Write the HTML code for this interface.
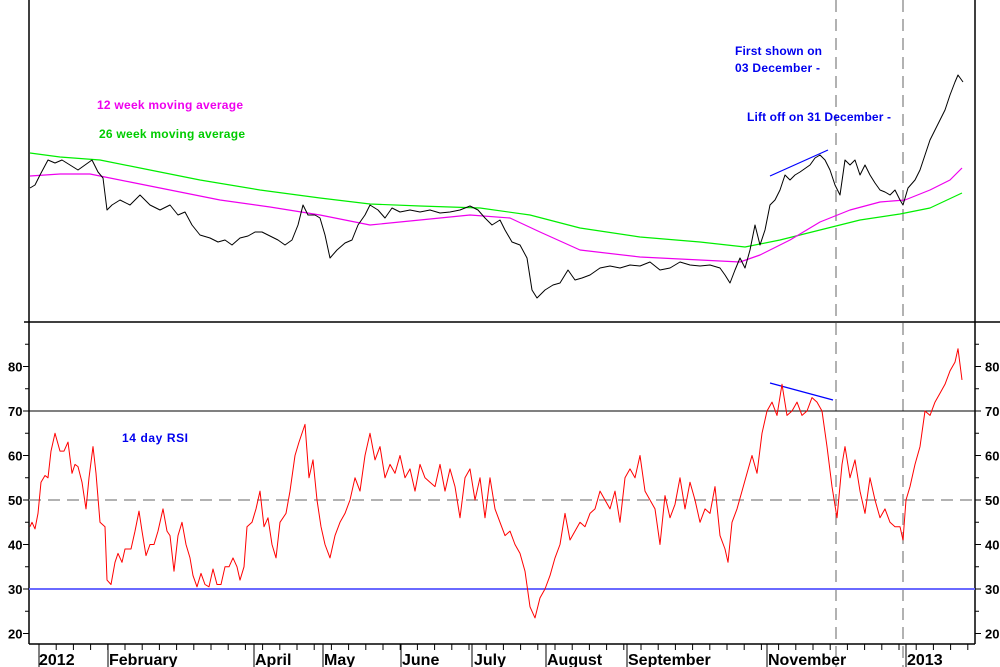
<!DOCTYPE html>
<html><head><meta charset="utf-8"><style>
body{margin:0;background:#fff;width:1000px;height:667px;overflow:hidden}
svg{display:block;font-family:"Liberation Sans",sans-serif}
</style></head><body>
<svg id="s" width="1000" height="667" viewBox="0 0 1000 667" xmlns="http://www.w3.org/2000/svg">
<rect width="1000" height="667" fill="#fff"/>
<line x1="29" y1="0" x2="29" y2="644" stroke="#000" stroke-width="1.5"/>
<line x1="975" y1="0" x2="975" y2="644" stroke="#000" stroke-width="1.5"/>
<line x1="24" y1="322" x2="1000" y2="322" stroke="#000" stroke-width="1.5"/>
<line x1="29" y1="644" x2="975" y2="644" stroke="#000" stroke-width="1.5"/>
<line x1="836" y1="0" x2="836" y2="667" stroke="#999" stroke-width="1.5" stroke-dasharray="12,7"/>
<line x1="903" y1="0" x2="903" y2="667" stroke="#999" stroke-width="1.5" stroke-dasharray="12,7"/>
<line x1="29" y1="411" x2="975" y2="411" stroke="#000" stroke-width="1"/>
<line x1="29" y1="500" x2="975" y2="500" stroke="#999" stroke-width="1.5" stroke-dasharray="12,7"/>
<line x1="29" y1="589" x2="975" y2="589" stroke="#6a6aff" stroke-width="2"/>
<g id="ax" font-size="13" font-weight="bold" fill="#000"></g>
<g font-size="12" font-weight="bold">
<text x="97" y="109" fill="#ee00ee" textLength="146">12 week moving average</text>
<text x="99" y="138" fill="#00cc00" textLength="146">26 week moving average</text>
<text x="735" y="55" fill="#0000ee" textLength="87">First shown on</text>
<text x="735" y="72" fill="#0000ee" textLength="85">03 December -</text>
<text x="747" y="121" fill="#0000ee" textLength="144">Lift off on 31 December -</text>
<text x="122" y="442" fill="#0000ee" textLength="66">14 day RSI</text>
</g>
<g font-size="16" font-weight="bold" fill="#000">
<text x="39" y="665">2012</text><text x="109" y="665">February</text><text x="255" y="665">April</text>
<text x="324" y="665">May</text><text x="402" y="665">June</text><text x="474" y="665">July</text>
<text x="547" y="665">August</text><text x="628" y="665">September</text><text x="768" y="665">November</text><text x="907" y="665">2013</text>
</g>
<line x1="770" y1="176" x2="828" y2="150" stroke="#0000ff" stroke-width="1.2"/>
<line x1="770" y1="383" x2="833" y2="400" stroke="#0000ff" stroke-width="1.2"/>
<g id="d"></g>
</svg>
<script>
var NS="http://www.w3.org/2000/svg";
function el(p,t,a,txt){var e=document.createElementNS(NS,t);for(var k in a)e.setAttribute(k,a[k]);if(txt!=null)e.textContent=txt;p.appendChild(e);return e;}
var ax=document.getElementById('ax'),d=document.getElementById('d');
function ry(v){return 411+(70-v)*4.45;}
for(var v=20;v<=85;v+=5){var y=ry(v);var big=v%10==0;
el(ax,'line',{x1:big?23:25,y1:y,x2:29,y2:y,stroke:'#000'});
el(ax,'line',{x1:975,y1:y,x2:big?981:979,y2:y,stroke:'#000'});
if(big){el(ax,'text',{x:8,y:y+5},v);el(ax,'text',{x:985,y:y+5},v);}}
var months=[39,108,254,323,401,472,546,627,767,906];
months.forEach(function(x){el(ax,'line',{x1:x,y1:644,x2:x,y2:667,stroke:'#000'});});
for(var x=39;x<975;x+=17.2){el(ax,'line',{x1:x,y1:644,x2:x,y2:650,stroke:'#000'});}
function pl(pts,c,w){el(d,'polyline',{points:pts.map(function(p){return p.join(',')}).join(' '),fill:'none',stroke:c,'stroke-width':w||1,'stroke-linejoin':'round'});}
var green=[[30,153],[60,157],[100,160],[150,170],[200,180],[260,190],[320,198],[370,204],[420,206],[480,208],[530,215],[580,228],[640,237],[700,242],[745,247],[780,240],[820,230],[860,220],[900,214],[930,208],[962,193]];
var pink=[[30,176],[60,174],[90,174],[130,182],[170,190],[220,200],[270,207],[320,215],[370,225],[420,220],[470,215],[510,218],[540,232],[580,250],[640,257],[700,260],[740,262],[760,255],[790,240],[820,222],[850,210],[880,202],[905,200],[930,190],[950,180],[962,168]];
var price=[[30,188],[35,185],[40,175],[48,160],[55,163],[62,160],[70,165],[78,170],[85,165],[92,160],[98,172],[103,178],[107,210],[112,205],[120,200],[130,205],[140,195],[150,205],[160,210],[170,205],[178,215],[185,212],[192,225],[200,235],[210,238],[218,242],[225,240],[232,245],[240,238],[248,236],[255,232],[262,232],[270,236],[278,240],[285,245],[292,240],[298,225],[303,205],[308,215],[315,215],[320,218],[325,235],[330,258],[337,250],[345,243],[352,240],[358,225],[365,215],[370,205],[378,210],[385,218],[392,208],[400,212],[410,210],[420,212],[430,210],[440,213],[450,212],[460,210],[470,206],[478,210],[485,218],[492,225],[500,220],[505,230],[512,242],[520,245],[527,258],[532,290],[537,298],[545,290],[553,285],[560,283],[568,270],[575,280],[582,278],[590,275],[600,268],[610,266],[620,268],[630,265],[640,266],[650,262],[660,270],[670,268],[680,262],[690,265],[700,266],[710,265],[720,268],[725,275],[730,283],[735,270],[740,258],[745,268],[750,250],[755,225],[760,245],[765,230],[770,205],[775,200],[780,190],[785,175],[790,180],[795,175],[800,172],[810,165],[815,158],[820,155],[825,160],[830,170],[835,185],[840,195],[845,160],[850,165],[855,160],[860,175],[865,165],[870,175],[875,183],[880,190],[885,192],[890,195],[895,190],[900,200],[903,205],[908,188],[915,180],[920,170],[925,155],[930,140],[935,130],[940,120],[945,110],[950,95],[955,82],[958,75],[963,82]];
var rsi=[[30,44],[32,45],[35,43.5],[38,47],[41,54],[45,55.5],[48,55],[51,61],[55,65],[60,61],[64,61],[68,63],[72,56],[75,58],[78,57.5],[82,54],[86,48],[89,55],[93,62],[96,56],[100,45],[105,44],[107,32],[111,31],[115,36],[118,38],[122,36],[125,39],[131,39],[135,43],[139,47.5],[142,43],[146,37.5],[150,40],[154,40],[158,43],[163,48],[167,43],[170,42],[174,34],[178,42],[182,45],[186,40],[190,37],[193,33],[197,30.5],[201,33.5],[205,31],[209,30.5],[213,34.5],[217,31],[221,31],[225,35],[229,35],[233,37],[237,35],[240,32],[244,35],[247,44],[252,45],[256,48],[260,52],[264,44],[268,46],[272,40],[276,37],[280,45],[286,47],[290,52],[295,60],[299,63],[305,67],[309,55],[313,59],[317,50],[321,44],[325,40],[330,37],[335,42],[340,45],[345,47],[350,50],[355,55],[360,52],[365,60],[370,65],[375,59],[380,62],[385,55],[390,58],[395,56],[400,60],[405,55],[410,57],[415,52],[420,58],[425,55],[430,54],[435,53],[440,58],[445,52],[450,57],[455,53],[460,46],[465,55],[470,57],[475,50],[480,55],[485,46],[490,55],[495,48],[500,45],[505,42],[510,43],[515,40],[520,38],[525,34],[530,26],[535,23.5],[540,28],[545,30],[550,33],[555,37],[560,40],[565,47],[570,41],[575,43],[580,45],[585,44],[590,47],[595,48],[600,52],[605,50],[610,48],[615,52],[620,45],[625,55],[630,57],[635,55],[640,60],[645,52],[650,50],[655,48],[660,40],[665,51],[670,46],[675,49],[680,55],[685,48],[690,54],[695,50],[700,45],[705,48],[710,47],[715,53],[720,42],[725,39],[728,36],[732,45],[737,48],[742,52],[747,56],[752,60],[757,56],[762,65],[767,70],[772,72],[777,69],[782,76],[787,69],[792,70],[797,72],[802,69],[807,70],[812,73],[817,72],[822,70],[827,62],[832,53],[837,46],[842,58],[845,62],[850,55],[855,59],[860,52],[865,47],[870,55],[875,50],[880,46],[885,48],[890,45],[895,44],[900,44],[903,41],[906,50],[910,53],[915,58],[920,62],[925,70],[930,69],[935,72],[940,74],[945,76],[950,79],[955,81],[958,84],[962,77]].map(function(p){return [p[0],ry(p[1]).toFixed(1)];});
pl(green,'#00ee00',1.2);pl(pink,'#ee00ee',1.2);pl(price,'#000',1);pl(rsi,'#ff0000',1);
</script>
</body></html>
